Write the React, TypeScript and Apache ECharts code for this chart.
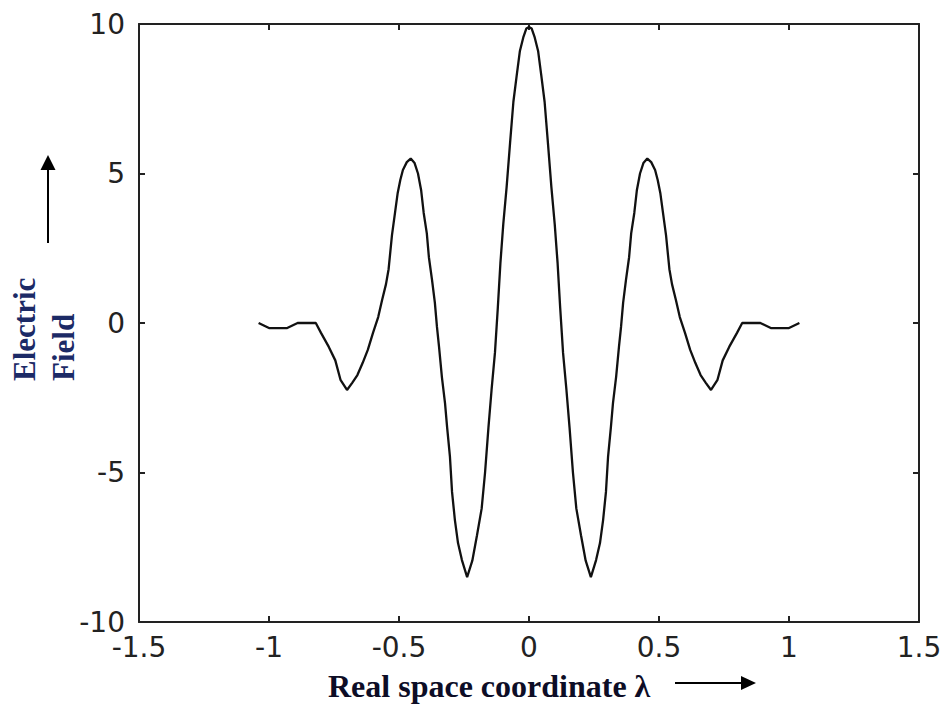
import React, { useEffect, useRef } from "react";
import * as echarts from "echarts";

const xTicks = ["-1.5", "-1", "-0.5", "0", "0.5", "1", "1.5"];
const yTicks = ["-10", "-5", "0", "5", "10"];

const xValues = [
  -1.04, -1.0, -0.93, -0.89, -0.82, -0.8, -0.77, -0.745, -0.725, -0.7, -0.68, -0.66, -0.64, -0.62, -0.6,
  -0.58, -0.565, -0.55, -0.54, -0.527, -0.515, -0.505, -0.495, -0.485, -0.47, -0.455, -0.44, -0.427,
  -0.415, -0.405, -0.393, -0.385, -0.373, -0.362, -0.354, -0.346, -0.335, -0.323, -0.315, -0.304,
  -0.296, -0.285, -0.273, -0.258, -0.238, -0.218, -0.2, -0.182, -0.169, -0.156, -0.144, -0.131, -0.12,
  -0.11, -0.099, -0.086, -0.073, -0.06, -0.047, -0.035, -0.022, -0.01, 0,
  0.01, 0.022, 0.035, 0.047, 0.06, 0.073, 0.086, 0.099, 0.11, 0.12, 0.131, 0.144, 0.156, 0.169, 0.182,
  0.2, 0.218, 0.238, 0.258, 0.273, 0.285, 0.296, 0.304, 0.315, 0.323, 0.335, 0.346, 0.354, 0.362,
  0.373, 0.385, 0.393, 0.405, 0.415, 0.427, 0.44, 0.455, 0.47, 0.485, 0.495, 0.505, 0.515, 0.527,
  0.54, 0.55, 0.565, 0.58, 0.6, 0.62, 0.64, 0.66, 0.68, 0.7, 0.725, 0.745, 0.77, 0.8, 0.82, 0.89,
  0.93, 1.0, 1.04,
];

const fieldValues = [
  0, -0.17, -0.17, 0, 0, -0.33, -0.8, -1.25, -1.9, -2.24, -2.0, -1.74, -1.34, -0.9, -0.33,
  0.2, 0.77, 1.3, 1.8, 2.94, 3.71, 4.35, 4.78, 5.12, 5.38, 5.5, 5.35, 5.0,
  4.45, 3.68, 3.0, 2.2, 1.44, 0.67, -0.13, -0.8, -1.81, -2.68, -3.48, -4.48,
  -5.65, -6.59, -7.36, -7.93, -8.5, -7.95, -7.1, -6.2, -5.0, -3.5, -2.24, -1.0, 0.5,
  2.0, 3.3, 4.55, 6.0, 7.4, 8.3, 9.1, 9.55, 9.85, 9.9,
  9.85, 9.55, 9.1, 8.3, 7.4, 6.0, 4.55, 3.3, 2.0, 0.5, -1.0, -2.24, -3.5, -5.0, -6.2,
  -7.1, -7.95, -8.5, -7.93, -7.36, -6.59, -5.65, -4.48, -3.48, -2.68, -1.81, -0.8, -0.13, 0.67,
  1.44, 2.2, 3.0, 3.68, 4.45, 5.0, 5.35, 5.5, 5.38, 5.12, 4.78, 4.35, 3.71, 2.94,
  1.8, 1.3, 0.77, 0.2, -0.33, -0.9, -1.34, -1.74, -2.0, -2.24, -1.9, -1.25, -0.8, -0.33, 0, 0,
  -0.17, -0.17, 0,
];

const xTitle = "Real space coordinate λ";
const yTitleLines = ["Electric", "Field"];

export default function App() {
  const ref = useRef<HTMLDivElement>(null);
  useEffect(() => {
    if (!ref.current) return;
    const chart = echarts.init(ref.current, undefined, { renderer: "svg" });
    const axisColor = "#222";
    const labelStyle = {
      fontFamily: "DejaVu Sans",
      fontSize: 28,
      color: "#222",
    };
    const baseX = {
      type: "value" as const,
      min: -1.5,
      max: 1.5,
      interval: 0.5,
      splitLine: { show: false },
      axisLine: { show: true, onZero: false, lineStyle: { color: axisColor, width: 2 } },
      axisTick: { show: true, inside: true, length: 6, lineStyle: { color: axisColor, width: 2 } },
    };
    const baseY = {
      type: "value" as const,
      min: -10,
      max: 10,
      interval: 5,
      splitLine: { show: false },
      axisLine: { show: true, onZero: false, lineStyle: { color: axisColor, width: 2 } },
      axisTick: { show: true, inside: true, length: 6, lineStyle: { color: axisColor, width: 2 } },
    };
    chart.setOption({
      animation: false,
      backgroundColor: "#fff",
      grid: { left: 139, right: 27, top: 24, bottom: 82, containLabel: false },
      xAxis: [
        {
          ...baseX,
          position: "bottom",
          axisLabel: {
            ...labelStyle,
            margin: 11,
            formatter: (v: number) => xTicks[Math.round((v + 1.5) / 0.5)] ?? "",
          },
        },
        { ...baseX, position: "top", axisLabel: { show: false } },
      ],
      yAxis: [
        {
          ...baseY,
          position: "left",
          axisLabel: {
            ...labelStyle,
            margin: 14,
            formatter: (v: number) => yTicks[Math.round((v + 10) / 5)] ?? "",
          },
        },
        { ...baseY, position: "right", axisLabel: { show: false } },
      ],
      series: [
        {
          type: "line",
          xAxisIndex: 0,
          yAxisIndex: 0,
          data: xValues.map((x, i) => [x, fieldValues[i]]),
          showSymbol: false,
          symbol: "none",
          smooth: false,
          lineStyle: { color: "#111", width: 2.3 },
        },
      ],
      graphic: [
        {
          type: "text",
          x: 328,
          y: 686,
          style: {
            text: xTitle,
            fontFamily: "Liberation Serif",
            fontWeight: "bold",
            fontSize: 32,
            fill: "#0d0d26",
            textAlign: "left",
            textVerticalAlign: "middle",
          },
        },
        {
          type: "line",
          shape: { x1: 675, y1: 683, x2: 742, y2: 683 },
          style: { stroke: "#000", lineWidth: 2 },
        },
        {
          type: "polygon",
          shape: { points: [[756, 683], [741, 676], [741, 690]] },
          style: { fill: "#000" },
        },
        {
          type: "text",
          x: 24,
          y: 381,
          rotation: Math.PI / 2,
          style: {
            text: yTitleLines[0],
            fontFamily: "Liberation Serif",
            fontWeight: "bold",
            fontSize: 31,
            fill: "#1c2a66",
            textAlign: "left",
            textVerticalAlign: "middle",
          },
        },
        {
          type: "text",
          x: 63,
          y: 381,
          rotation: Math.PI / 2,
          style: {
            text: yTitleLines[1],
            fontFamily: "Liberation Serif",
            fontWeight: "bold",
            fontSize: 31,
            fill: "#1c2a66",
            textAlign: "left",
            textVerticalAlign: "middle",
          },
        },
        {
          type: "line",
          shape: { x1: 48, y1: 243, x2: 48, y2: 169 },
          style: { stroke: "#000", lineWidth: 2 },
        },
        {
          type: "polygon",
          shape: { points: [[48, 155], [40.5, 170], [55.5, 170]] },
          style: { fill: "#000" },
        },
      ],
    });
    return () => chart.dispose();
  }, []);
  return (
    <div
      ref={ref}
      style={{ position: "fixed", left: 0, top: 0, width: 946, height: 704, background: "#fff" }}
    />
  );
}
